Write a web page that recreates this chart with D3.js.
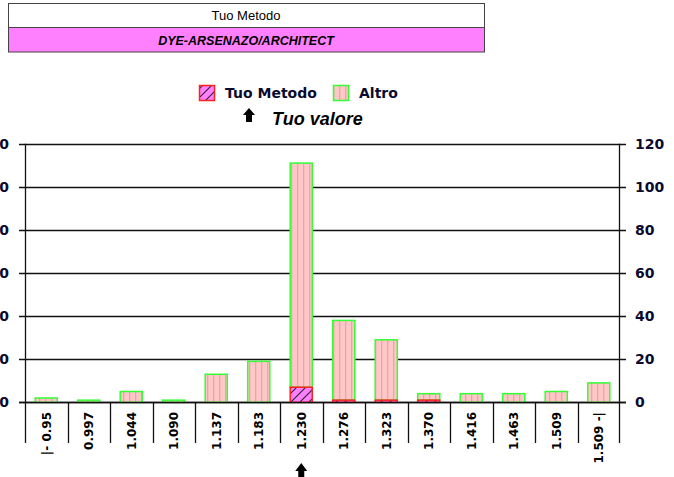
<!DOCTYPE html>
<html>
<head>
<meta charset="utf-8">
<script src="https://cdn.jsdelivr.net/npm/d3@7"></script>
<style>
  html, body { margin: 0; padding: 0; background: #fff; }
  svg { display: block; }
</style>
</head>
<body>
<svg id="chart" width="674" height="477"></svg>
<script>
// Bin labels along the x axis
const categories = ["|- 0.95", "0.997", "1.044", "1.090", "1.137", "1.183", "1.230",
                    "1.276", "1.323", "1.370", "1.416", "1.463", "1.509", "1.509 -|"];
// Counts for "Tuo Metodo" (bottom of stack)
const tuoValues = [0, 0, 0, 0, 0, 0, 7, 1, 1, 1, 0, 0, 0, 0];
// Counts for "Altro" (stacked above)
const altroValues = [2, 1, 5, 1, 13, 19, 104, 37, 28, 3, 4, 4, 5, 9];
// Y axis ticks
const yTicks = [0, 20, 40, 60, 80, 100, 120];
// Header texts
const headerTitle = "Tuo Metodo";
const headerSubtitle = "DYE-ARSENAZO/ARCHITECT";
// Bin holding the user's value
const userBin = "1.230";

const svg = d3.select("#chart");
const defs = svg.append("defs");

// Vertical pink stripes for "Altro"
const pA = defs.append("pattern").attr("id", "altroFill")
  .attr("patternUnits", "userSpaceOnUse").attr("width", 6).attr("height", 6);
pA.append("rect").attr("width", 6).attr("height", 6).attr("fill", "#ffc8c8");
pA.append("rect").attr("x", 3).attr("width", 1.3).attr("height", 6).attr("fill", "#f2a2a6");

// Diagonal hatch on magenta for "Tuo Metodo"
const pT = defs.append("pattern").attr("id", "tuoFill")
  .attr("patternUnits", "userSpaceOnUse").attr("width", 9).attr("height", 9);
pT.append("rect").attr("width", 9).attr("height", 9).attr("fill", "#ff80ff");
pT.append("path").attr("d", "M0,9L9,0M-1,1L1,-1M8,10L10,8")
  .attr("stroke", "#302030").attr("stroke-width", 1.1);

// Header table
const hdr = svg.append("g");
hdr.append("rect").attr("x", 8.5).attr("y", 3.5).attr("width", 476).attr("height", 24)
  .attr("fill", "#fff").attr("stroke", "#444");
hdr.append("rect").attr("x", 8.5).attr("y", 27.5).attr("width", 476).attr("height", 24.5)
  .attr("fill", "#ff80ff").attr("stroke", "#444");
hdr.append("text").attr("x", 246).attr("y", 20).attr("text-anchor", "middle")
  .attr("font-family", "Liberation Sans, Arial, sans-serif").attr("font-size", 13)
  .attr("fill", "#000").text(headerTitle);
hdr.append("text").attr("x", 246).attr("y", 44.5).attr("text-anchor", "middle")
  .attr("font-family", "Liberation Sans, Arial, sans-serif").attr("font-size", 12.5)
  .attr("font-weight", "bold").attr("font-style", "italic")
  .attr("fill", "#000").text(headerSubtitle);

// Plot frame
const plotLeft = 25, plotRight = 620, plotTop = 143.7, plotBase = 402.3, sepBottom = 443;
const xBand = d3.scaleBand().domain(categories).range([plotLeft, plotRight]).padding(0);
const xBar = d3.scaleBand().domain(categories).range([plotLeft, plotRight])
  .paddingInner(0.48).paddingOuter(0.24);
const y = d3.scaleLinear().domain([0, 120]).range([plotBase, plotTop]);

// Gridlines (extend out as ticks on both sides)
svg.append("g").selectAll("line").data(yTicks).join("line")
  .attr("x1", plotLeft - 6).attr("x2", plotRight + 6)
  .attr("y1", d => Math.round(y(d)) + 0.5).attr("y2", d => Math.round(y(d)) + 0.5)
  .attr("stroke", "#111").attr("stroke-width", 1.3);

// Axes with labels
const labelFont = "DejaVu Sans, Verdana, sans-serif";
const yl = svg.append("g").attr("transform", `translate(${plotLeft},0)`)
  .call(d3.axisLeft(y).tickValues(yTicks).tickSize(6).tickPadding(10).tickFormat(d3.format("d")));
const yr = svg.append("g").attr("transform", `translate(${plotRight},0)`)
  .call(d3.axisRight(y).tickValues(yTicks).tickSize(6).tickPadding(9).tickFormat(d3.format("d")));
[yl, yr].forEach(g => {
  g.select(".domain").remove();
  g.selectAll(".tick line").remove();
  g.selectAll("text").attr("font-family", labelFont).attr("font-size", 14)
    .attr("font-weight", "bold").attr("fill", "#0a0a30");
});

// Vertical axis lines
svg.append("line").attr("x1", plotLeft + 0.5).attr("x2", plotLeft + 0.5)
  .attr("y1", plotTop).attr("y2", sepBottom)
  .attr("stroke", "#111").attr("stroke-width", 1.3);
svg.append("line").attr("x1", plotRight - 0.5).attr("x2", plotRight - 0.5)
  .attr("y1", plotTop).attr("y2", sepBottom)
  .attr("stroke", "#111").attr("stroke-width", 1.3);

// Category separators below the axis
const seps = categories.slice(1).map(c => xBand(c));
svg.append("g").selectAll("line").data(seps).join("line")
  .attr("x1", d => Math.round(d) + 0.5).attr("x2", d => Math.round(d) + 0.5)
  .attr("y1", plotBase).attr("y2", sepBottom)
  .attr("stroke", "#111").attr("stroke-width", 1.3);

// Stacked bars
const bars = svg.append("g");
categories.forEach((c, i) => {
  const t = tuoValues[i], a = altroValues[i];
  const x0 = xBar(c), w = xBar.bandwidth();
  if (a > 0) {
    bars.append("rect").attr("x", x0).attr("width", w)
      .attr("y", y(t + a)).attr("height", y(t) - y(t + a))
      .attr("fill", "url(#altroFill)").attr("stroke", "#33ff33").attr("stroke-width", 1.5);
  }
  if (t > 0) {
    bars.append("rect").attr("x", x0).attr("width", w)
      .attr("y", y(t)).attr("height", y(0) - y(t))
      .attr("fill", "url(#tuoFill)").attr("stroke", "#ff2020").attr("stroke-width", 1.5);
  }
});

// Baseline drawn over bars
svg.append("line").attr("x1", plotLeft - 6).attr("x2", plotRight + 6)
  .attr("y1", Math.round(plotBase) + 0.5).attr("y2", Math.round(plotBase) + 0.5)
  .attr("stroke", "#111").attr("stroke-width", 1.3);

// Rotated category labels
svg.append("g").selectAll("text").data(categories).join("text")
  .attr("transform", d => `translate(${xBand(d) + xBand.bandwidth() / 2},412) rotate(-90)`)
  .attr("text-anchor", "end").attr("dy", "0.36em")
  .attr("font-family", labelFont).attr("font-size", 12).attr("font-weight", "bold")
  .attr("fill", "#000").text(d => d);

// Up arrow marker
function arrow(cx, topY, h) {
  const hw = 6, sw = 3, hh = h * 0.5;
  return `M${cx},${topY} L${cx + hw},${topY + hh} L${cx + sw},${topY + hh} L${cx + sw},${topY + h} ` +
         `L${cx - sw},${topY + h} L${cx - sw},${topY + hh} L${cx - hw},${topY + hh} Z`;
}
svg.append("path").attr("d", arrow(xBand(userBin) + xBand.bandwidth() / 2, 463, 16)).attr("fill", "#000");

// Legend
const lg = svg.append("g");
lg.append("rect").attr("x", 199.5).attr("y", 85.5).attr("width", 15).attr("height", 15)
  .attr("fill", "url(#tuoFill)").attr("stroke", "#ff2020").attr("stroke-width", 1.5);
lg.append("text").attr("x", 225).attr("y", 98).attr("font-family", labelFont)
  .attr("font-size", 14).attr("font-weight", "bold").attr("fill", "#0a0a30").text("Tuo Metodo");
lg.append("rect").attr("x", 333.5).attr("y", 85.5).attr("width", 15).attr("height", 15)
  .attr("fill", "url(#altroFill)").attr("stroke", "#33ff33").attr("stroke-width", 1.5);
lg.append("text").attr("x", 359).attr("y", 98).attr("font-family", labelFont)
  .attr("font-size", 14).attr("font-weight", "bold").attr("fill", "#0a0a30").text("Altro");
lg.append("path").attr("d", arrow(249, 108, 14)).attr("fill", "#000");
lg.append("text").attr("x", 272).attr("y", 125).attr("font-family", "Liberation Sans, Arial, sans-serif")
  .attr("font-size", 18).attr("font-weight", "bold").attr("font-style", "italic")
  .attr("fill", "#000").text("Tuo valore");
</script>
</body>
</html>
